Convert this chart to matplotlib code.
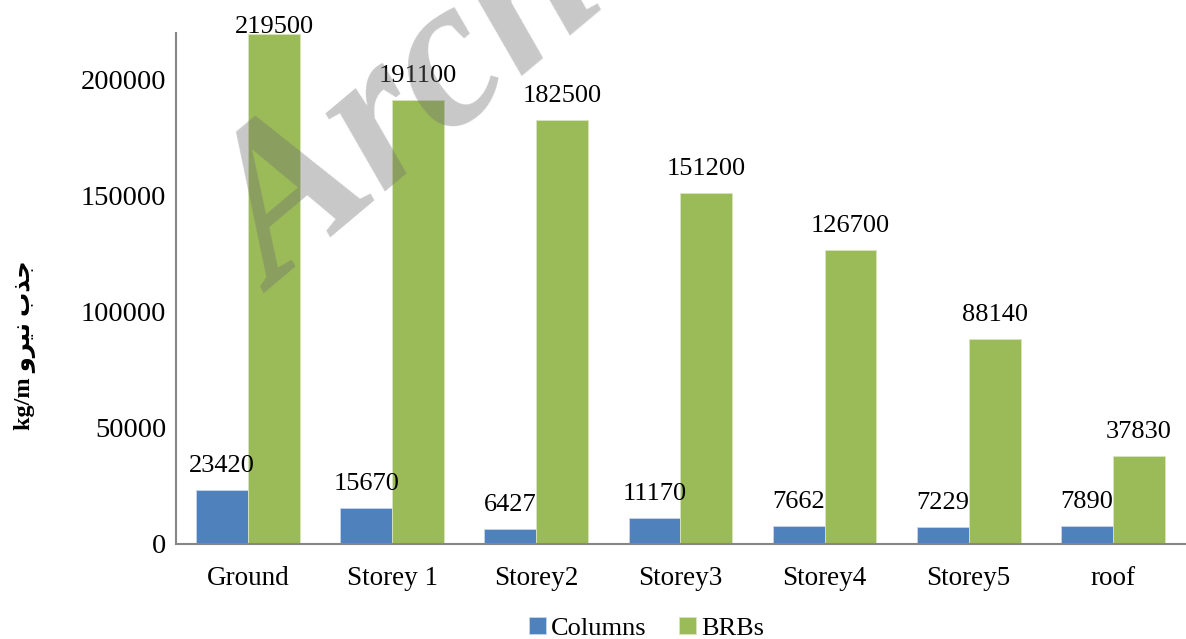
import numpy as np
import matplotlib.pyplot as plt

# data
floors = ['Ground', 'Storey 1', 'Storey2', 'Storey3', 'Storey4', 'Storey5', 'roof']
columns = [23420, 15670, 6427, 11170, 7662, 7229, 7890]
brbs = [219500, 191100, 182500, 151200, 126700, 88140, 37830]
yticks = [0, 50000, 100000, 150000, 200000]

plt.rcParams['font.family'] = ['Liberation Serif', 'DejaVu Sans']

fig = plt.figure(figsize=(11.86, 6.39), dpi=100)
ax = fig.add_axes([0.1484, 0.1487, 0.8506, 0.7997])

x = np.arange(len(floors))
w = 0.36
b1 = ax.bar(x - w / 2, columns, w, color='#4F81BD', edgecolor='#C6D6EA', linewidth=0.6, label='Columns')
b2 = ax.bar(x + w / 2, brbs, w, color='#9BBB59', edgecolor='#D7E4BD', linewidth=0.6, label='BRBs')

# value labels above the bars (tallest one is pushed down to stay inside, like excel)
top_lab = 212000
for bars, vals in ((b1, columns), (b2, brbs)):
    for r, v in zip(bars, vals):
        ax.annotate(str(v), (r.get_x() + r.get_width() / 2, min(v, top_lab)), xytext=(0, 13),
                    textcoords='offset points', ha='center', va='baseline', fontsize=19)

ax.set_xlim(-0.5, len(floors) - 0.5)
ax.set_ylim(0, 220000)
ax.set_xticks(x)
ax.set_xticklabels(floors, fontsize=19.5)
ax.set_yticks(yticks)
ax.set_yticklabels([str(t) for t in yticks], fontsize=20.5)
ax.tick_params(axis='y', length=0, pad=7)
ax.tick_params(axis='x', length=0, pad=16)

for s in ('top', 'right'):
    ax.spines[s].set_visible(False)
for s in ('left', 'bottom'):
    ax.spines[s].set_color('#868686')
    ax.spines[s].set_linewidth(1.5)

# persian part written in visual order with contextual forms
fa = '\uFE8F\uFEAC\uFE9F'  # jazb
niru = '\uFEED\uFEAE\uFBFF\uFEE7'
fig.text(0.021, 0.46, 'kg/m ' + niru + ' ' + fa, rotation=90, ha='center', va='center',
         fontsize=17.5, fontweight='bold')

fig.legend(loc='center', bbox_to_anchor=(0.545, 0.017), ncol=2, frameon=False,
           fontsize=19, handlelength=0.65, handleheight=0.65, handletextpad=0.2,
           columnspacing=1.2)

# watermark
fig.text(0.232, 0.540, 'Archive', rotation=40, rotation_mode='anchor', fontsize=155,
         fontweight='bold', fontstyle='italic', color='#6E6E6E', alpha=0.38,
         ha='left', va='baseline', family='Liberation Serif', zorder=10)

fig.savefig('out.png', dpi=100)
